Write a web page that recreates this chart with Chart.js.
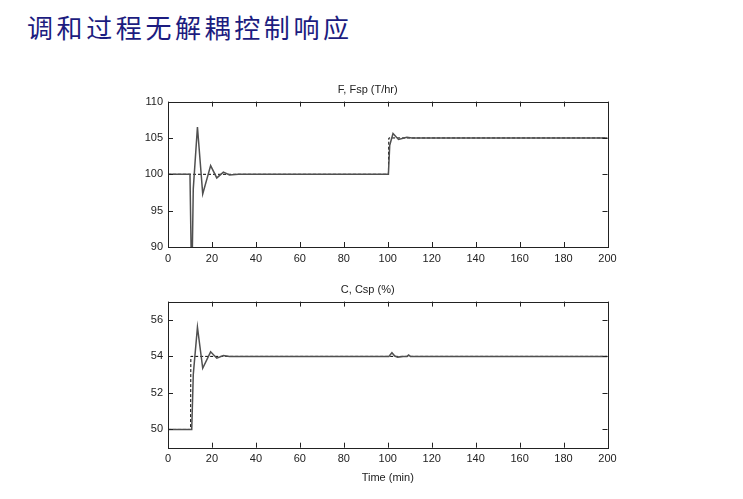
<!DOCTYPE html>
<html>

<head>
  <meta charset="utf-8">
  <title>调和过程无解耦控制响应</title>
  <script src="https://cdn.jsdelivr.net/npm/chart.js"></script>
  <style>
    body { margin: 0; background: #fff; width: 743px; height: 499px; position: relative; overflow: hidden; }
    #page-title {
      position: absolute; left: 27px; top: 9px;
      font-family: "Noto Sans CJK SC", sans-serif; font-size: 26px; letter-spacing: 3.6px;
      color: #1c1c80; line-height: 36px; white-space: nowrap;
    }
    .chart-box { position: absolute; left: 0; width: 743px; }
  </style>
</head>

<body>
  <div id="page-title">调和过程无解耦控制响应</div>
  <div class="chart-box" style="top:60px;height:210px"><canvas id="f-chart" width="743" height="210"></canvas></div>
  <div class="chart-box" style="top:270px;height:229px"><canvas id="c-chart" width="743" height="229"></canvas></div>

  <script>
    // 时间轴刻度
    var xTicks = [0, 20, 40, 60, 80, 100, 120, 140, 160, 180, 200];

    // 流量 F 与设定值 Fsp
    var fTime = [0, 10, 10.8, 11.5, 13.4, 15.8, 19.4, 22.2, 25.2, 28, 32, 100.3, 100.9, 102.4, 104.9, 108.7, 111, 200];
    var fValue = [100, 100, 84, 98, 106.5, 97.3, 101.2, 99.5, 100.3, 99.9, 100, 100, 104, 105.6, 104.8, 105.1, 105, 105];
    var fspTime = [0, 100.3, 100.5, 200];
    var fspValue = [100, 100, 105, 105];
    var fTicks = [90, 95, 100, 105, 110];

    // 浓度 C 与设定值 Csp
    var cTime = [0, 10.8, 11.5, 13.4, 15.8, 19.4, 22.2, 25.2, 28, 100.5, 101.9, 103.2, 104.5, 107, 108.8, 109.5, 110.3, 200];
    var cValue = [50, 50, 53, 55.6, 53.35, 54.25, 53.9, 54.05, 54, 54, 54.2, 54.02, 53.96, 54, 54, 54.08, 54, 54];
    var cspTime = [0, 10.3, 10.4, 200];
    var cspValue = [50, 50, 54, 54];
    var cTicks = [50, 52, 54, 56];

    function points(t, v) {
      return t.map(function (x, i) { return { x: x, y: v[i] }; });
    }

    var labelFont = { family: '"Liberation Sans", Arial, sans-serif', size: 11 };

    // MATLAB 风格的边框和向内刻度
    var boxPlugin = {
      id: 'box',
      afterDatasetsDraw: function (chart) {
        var a = chart.chartArea, c = chart.ctx, len = 5;
        c.save();
        c.strokeStyle = '#222';
        c.lineWidth = 1;
        c.beginPath();
        chart.scales.x.ticks.forEach(function (t) {
          var px = Math.round(chart.scales.x.getPixelForValue(t.value)) + 0.5;
          c.moveTo(px, a.bottom); c.lineTo(px, a.bottom - len);
          c.moveTo(px, a.top); c.lineTo(px, a.top + len);
        });
        chart.scales.y.ticks.forEach(function (t) {
          var py = Math.round(chart.scales.y.getPixelForValue(t.value)) + 0.5;
          c.moveTo(a.left, py); c.lineTo(a.left + len, py);
          c.moveTo(a.right, py); c.lineTo(a.right - len, py);
        });
        c.stroke();
        c.strokeRect(Math.round(a.left) + 0.5, Math.round(a.top) + 0.5,
          Math.round(a.right - a.left), Math.round(a.bottom - a.top));
        c.restore();
      }
    };

    function makeChart(id, title, solid, dashed, yMin, yMax, yTicks, xTitle, pad, xHeight) {
      var ctx = document.getElementById(id).getContext('2d');
      return new Chart(ctx, {
        type: 'line',
        data: {
          datasets: [{
            data: solid,
            borderColor: '#505050',
            borderWidth: 1.5,
            pointRadius: 0,
            tension: 0
          }, {
            data: dashed,
            borderColor: '#000',
            borderWidth: 1,
            borderDash: [3, 2],
            pointRadius: 0,
            tension: 0
          }]
        },
        options: {
          responsive: false,
          animation: false,
          layout: { padding: pad },
          plugins: {
            legend: { display: false },
            tooltip: { enabled: false },
            title: {
              display: true,
              text: title,
              color: '#222',
              font: { family: labelFont.family, size: 11, weight: 'normal' },
              padding: { top: 0, bottom: 5 }
            }
          },
          scales: {
            x: {
              type: 'linear',
              min: 0,
              max: 200,
              afterBuildTicks: function (s) { s.ticks = xTicks.map(function (v) { return { value: v }; }); },
              afterFit: function (s) { s.height = xHeight; },
              grid: { display: false, drawTicks: false },
              border: { display: false },
              ticks: { color: '#222', font: labelFont, padding: 5, maxRotation: 0, autoSkip: false },
              title: {
                display: !!xTitle,
                text: xTitle,
                color: '#222',
                font: labelFont,
                padding: { top: 0, bottom: 8 }
              }
            },
            y: {
              min: yMin,
              max: yMax,
              afterBuildTicks: function (s) { s.ticks = yTicks.map(function (v) { return { value: v }; }); },
              afterFit: function (s) { s.width = 40; },
              grid: { display: false, drawTicks: false },
              border: { display: false },
              ticks: { color: '#222', font: labelFont, padding: 5 }
            }
          }
        },
        plugins: [boxPlugin]
      });
    }

    makeChart('f-chart', 'F, Fsp (T/hr)', points(fTime, fValue), points(fspTime, fspValue),
      90, 110, fTicks, '', { left: 128, right: 135.5, top: 23.4, bottom: 3 }, 20);
    makeChart('c-chart', 'C, Csp (%)', points(cTime, cValue), points(cspTime, cspValue),
      49, 57, cTicks, 'Time (min)', { left: 128, right: 135.5, top: 13.4, bottom: 6.3 }, 45);
  </script>
</body>

</html>
